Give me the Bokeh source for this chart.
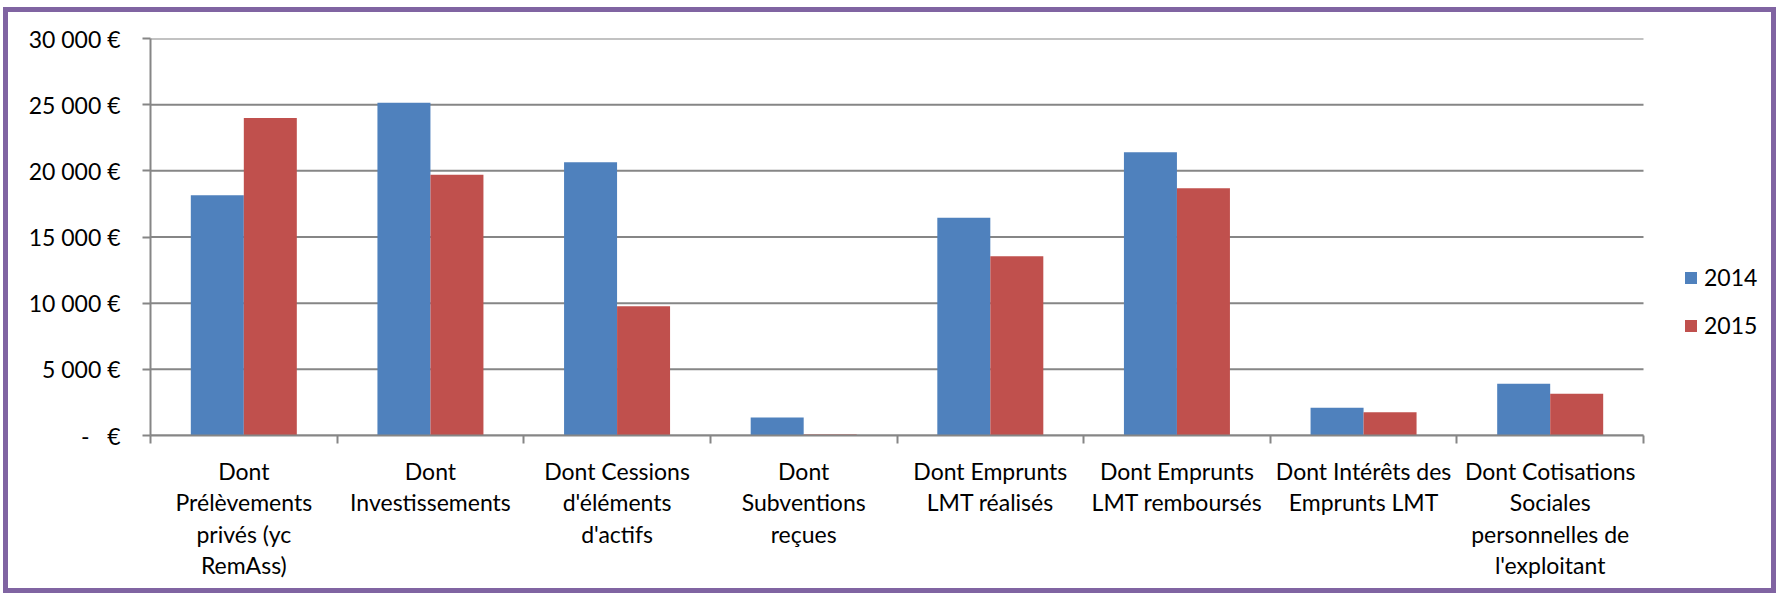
import numpy as np
from bokeh.plotting import figure
from bokeh.embed import file_html
from bokeh.resources import INLINE
from bokeh.models import (ColumnDataSource, Range1d, LinearAxis, FixedTicker, Legend, LegendItem)

categories = [
    "Dont\nPrélèvements\nprivés (yc\nRemAss)",
    "Dont\nInvestissements",
    "Dont Cessions\nd'éléments\nd'actifs",
    "Dont\nSubventions\nreçues",
    "Dont Emprunts\nLMT réalisés",
    "Dont Emprunts\nLMT remboursés",
    "Dont Intérêts des\nEmprunts LMT",
    "Dont Cotisations\nSociales\npersonnelles de\nl'exploitant",
]
values_2014 = [18150, 25150, 20650, 1360, 16450, 21400, 2090, 3910]
values_2015 = [24000, 19700, 9770, 80, 13550, 18680, 1750, 3150]
series_names = ["2014", "2015"]
y_ticks = [0, 5000, 10000, 15000, 20000, 25000, 30000]
y_tick_labels = ["-\u00a0\u00a0\u00a0€", "5 000 €", "10 000 €", "15 000 €", "20 000 €", "25 000 €", "30 000 €"]

BLUE = "#4F81BD"
RED = "#C0504D"
GRAY = "#868686"
FONT = "Lato"
FS = "23px"

n = len(categories)
centers = np.arange(n) + 0.5
bar_w = 0.284
W, H = 1773, 586
ML, MT, MB = 142, 26, 163
plot_w = 1493                      # pixel width of the category area
x_end = n * (W - ML) / plot_w      # extra room on the right for the legend

src = ColumnDataSource(dict(x1=centers - bar_w / 2, x2=centers + bar_w / 2,
                            a=values_2014, b=values_2015))
grid_src = ColumnDataSource(dict(x0=[0] * len(y_ticks), x1=[n] * len(y_ticks), y=y_ticks))

p = figure(width=W, height=H, x_range=Range1d(0, x_end), y_range=Range1d(0, 30000),
           x_axis_location=None, y_axis_location=None,
           toolbar_location=None, output_backend="svg",
           min_border_left=ML, min_border_right=0, min_border_top=MT, min_border_bottom=MB)
p.outline_line_color = None
p.background_fill_color = "white"
p.border_fill_color = "white"
p.styles = {"border": "5px solid #8064A2", "margin-left": "3px", "margin-top": "7px"}
for g in p.grid:
    g.visible = False

# horizontal gridlines limited to the category area
p.segment(x0="x0", x1="x1", y0="y", y1="y", source=grid_src, line_color=GRAY, line_width=2)

r1 = p.vbar(x="x1", top="a", width=bar_w, source=src, fill_color=BLUE, line_color=None)
r2 = p.vbar(x="x2", top="b", width=bar_w, source=src, fill_color=RED, line_color=None)

yticker = FixedTicker(ticks=y_ticks)
yaxis = LinearAxis(ticker=yticker,
                   major_label_overrides={t: l for t, l in zip(y_ticks, y_tick_labels)},
                   axis_line_color=GRAY, axis_line_width=2,
                   major_tick_out=8, major_tick_in=0, major_tick_line_color=GRAY, major_tick_line_width=2,
                   minor_tick_line_color=None, major_label_standoff=22,
                   major_label_text_font=FONT, major_label_text_font_size=FS,
                   major_label_text_color="#000000")
p.add_layout(yaxis, "left")

# category boundary ticks
bounds = list(range(n + 1))
xb = LinearAxis(ticker=FixedTicker(ticks=bounds), bounds=(0, n),
                major_label_overrides={i: "" for i in bounds},
                axis_line_color=GRAY, axis_line_width=2,
                major_tick_out=8, major_tick_in=0, major_tick_line_color=GRAY, major_tick_line_width=2,
                minor_tick_line_color=None, major_label_standoff=0,
                major_label_text_font_size="1px")
p.add_layout(xb, "below")

# category labels at the centres
xaxis = LinearAxis(ticker=FixedTicker(ticks=list(centers)), bounds=(0, n),
                   major_label_overrides={float(c): lab for c, lab in zip(centers, categories)},
                   axis_line_color=None, major_tick_line_color=None, minor_tick_line_color=None,
                   major_label_standoff=7, major_label_text_font=FONT,
                   major_label_text_font_size=FS, major_label_text_color="#000000",
                   major_label_text_line_height=1.13)
p.add_layout(xaxis, "below")

legend = Legend(items=[LegendItem(label=series_names[0], renderers=[r1]),
                       LegendItem(label=series_names[1], renderers=[r2])],
                location=(1533, 96), border_line_color=None, background_fill_alpha=0,
                padding=0, margin=0, glyph_width=15, glyph_height=15, spacing=20,
                label_standoff=6, label_text_font=FONT, label_text_font_size=FS,
                label_text_color="#000000")
p.add_layout(legend, "center")

open("out.html", "w").write(file_html(p, INLINE))
